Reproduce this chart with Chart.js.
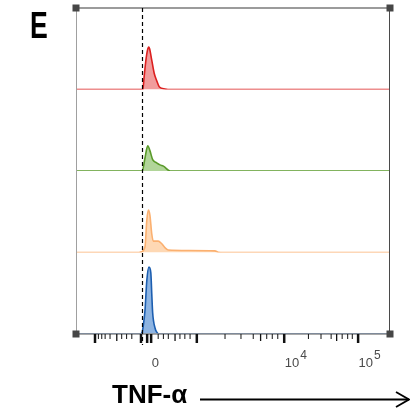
<!DOCTYPE html>
<html>
<head>
<meta charset="utf-8">
<script src="https://cdn.jsdelivr.net/npm/chart.js@4.4.1/dist/chart.umd.min.js"></script>
<style>
  html, body { margin: 0; padding: 0; background: #fff; }
</style>
</head>
<body>
<canvas id="chart-hist" width="410" height="412"></canvas>
<script>
// x = display channel (biexponential scale, 0-1024), y = count per lane (0-100)
var redChannel = [0, 202, 218, 222, 228, 233, 237, 240, 247, 255, 263, 272, 290, 307, 1024];
var redCount   = [0, 0, 0, 15, 36, 48, 52, 50, 36, 20, 11, 3, 0.7, 0, 0];

var greenChannel = [0, 210, 216, 225, 234, 241, 250, 263, 274, 285, 307, 1024];
var greenCount   = [0, 0, 0, 16, 31, 25, 14, 10, 7.5, 6, 0, 0];

var orangeChannel = [0, 205, 214, 225, 231, 236, 241, 247, 252, 268, 279, 290, 301, 366, 453, 464, 502, 1024];
var orangeCount   = [0, 0, 1, 7, 40, 52, 46, 23, 14, 14, 11, 6, 3, 2.5, 2, 0.4, 0, 0];

var blueChannel = [0, 210, 216, 219, 225, 231, 238, 244, 247, 250, 258, 263, 270, 1024];
var blueCount   = [0, 0, 2.5, 9, 29, 66, 82, 75, 50, 26, 7, 2.5, 0, 0];

// axis ticks (channel positions)
var majorTicks  = [62, 212, 232, 245, 394, 679, 920];
var mediumTicks = [133, 323, 602, 850];
var minorTicks  = [73, 84, 95, 111, 149, 165, 182, 268, 285, 301, 339, 355, 372,
                   486, 538, 578, 622, 640, 658, 758, 799, 832, 868, 886, 901];
var labelTicks  = [245, 679, 920];
var labelBase   = ["0", "10", "10"];
var labelExp    = ["", "4", "5"];

var gateChannel = 214;
var panelLetter = "E";
var axisTitle = "TNF-α";

function points(xs, ys) {
  return xs.map((x, i) => ({ x: x, y: ys[i] }));
}

function lane() {
  return { type: "linear", position: "left", stack: "lanes", stackWeight: 1,
           min: 0, max: 100, display: false };
}

const decorPlugin = {
  id: "decor",
  afterDraw(chart) {
    const ctx = chart.ctx;
    const a = chart.chartArea;
    const x = chart.scales.x;
    ctx.save();

    // frame
    ctx.lineWidth = 1.5;
    ctx.strokeStyle = "#7a7a7a";
    ctx.beginPath(); ctx.moveTo(a.left, a.top); ctx.lineTo(a.right, a.top); ctx.stroke();
    ctx.lineWidth = 1;
    ctx.strokeStyle = "#a0a0a0";
    ctx.beginPath(); ctx.moveTo(a.left + 0.5, a.top); ctx.lineTo(a.left + 0.5, a.bottom); ctx.stroke();
    ctx.strokeStyle = "#4a4a4a";
    ctx.beginPath(); ctx.moveTo(a.right - 0.5, a.top); ctx.lineTo(a.right - 0.5, a.bottom); ctx.stroke();
    ctx.lineWidth = 1.5;
    ctx.strokeStyle = "#8c8c8c";
    ctx.beginPath(); ctx.moveTo(a.left, a.bottom); ctx.lineTo(a.right, a.bottom); ctx.stroke();

    // tick marks
    ctx.strokeStyle = "#111";
    const drawTicks = (list, len, w) => {
      ctx.lineWidth = w;
      list.forEach(v => {
        const px = x.getPixelForValue(v);
        ctx.beginPath(); ctx.moveTo(px, a.bottom); ctx.lineTo(px, a.bottom + len); ctx.stroke();
      });
    };
    drawTicks(minorTicks, 5, 1);
    drawTicks(mediumTicks, 7, 1.3);
    drawTicks(majorTicks, 9, 2.5);

    // corner squares
    ctx.fillStyle = "#464646";
    [[a.left, a.top], [a.right, a.top], [a.left, a.bottom], [a.right, a.bottom]].forEach(p => {
      ctx.fillRect(p[0] - 3.5, p[1] - 3.5, 7, 7);
    });

    // tick labels
    ctx.fillStyle = "#4a4a4a";
    ctx.textBaseline = "alphabetic";
    ctx.textAlign = "left";
    labelTicks.forEach((v, i) => {
      const px = x.getPixelForValue(v) + 0.5;
      ctx.font = '13px "Liberation Sans", Arial, sans-serif';
      ctx.fillText(labelBase[i], px, 367);
      if (labelExp[i]) {
        const w = ctx.measureText(labelBase[i]).width;
        ctx.font = '12px "Liberation Sans", Arial, sans-serif';
        ctx.fillText(labelExp[i], px + w + 1, 358.5);
      }
    });

    // gate line
    const gx = Math.round(x.getPixelForValue(gateChannel)) + 0.5;
    ctx.strokeStyle = "#000";
    ctx.lineWidth = 1.2;
    ctx.setLineDash([4, 3]);
    ctx.beginPath(); ctx.moveTo(gx, a.top); ctx.lineTo(gx, a.bottom + 11); ctx.stroke();
    ctx.setLineDash([]);

    // panel letter
    ctx.fillStyle = "#000";
    ctx.save();
    ctx.translate(30, 37.5);
    ctx.scale(0.72, 1);
    ctx.font = 'bold 37px "Liberation Sans", Arial, sans-serif';
    ctx.fillText(panelLetter, 0, 0);
    ctx.restore();

    // axis title + arrow
    ctx.font = 'bold 26px "Liberation Sans", Arial, sans-serif';
    ctx.fillText(axisTitle, 112, 403);
    ctx.lineWidth = 1.8;
    ctx.strokeStyle = "#000";
    ctx.beginPath(); ctx.moveTo(200, 399.5); ctx.lineTo(409, 399.5); ctx.stroke();
    ctx.beginPath(); ctx.moveTo(396, 392); ctx.lineTo(409, 399.5); ctx.lineTo(396, 407); ctx.stroke();

    ctx.restore();
  }
};

function renderHistograms() {
  const ctx = document.getElementById("chart-hist")?.getContext("2d");
  if (!ctx) return;

  const common = { borderWidth: 1.6, pointRadius: 0, fill: "origin", cubicInterpolationMode: "monotone" };

  new Chart(ctx, {
    type: "line",
    data: {
      datasets: [
        Object.assign({ label: "red", data: points(redChannel, redCount), yAxisID: "yRed",
          borderColor: "#dc1f1f", backgroundColor: "rgba(232,90,90,0.6)" }, common),
        Object.assign({ label: "green", data: points(greenChannel, greenCount), yAxisID: "yGreen",
          borderColor: "#5a9a2a", backgroundColor: "rgba(125,185,85,0.6)" }, common),
        Object.assign({ label: "orange", data: points(orangeChannel, orangeCount), yAxisID: "yOrange",
          borderColor: "#fbb070", backgroundColor: "rgba(253,190,130,0.6)" }, common),
        Object.assign({ label: "blue", data: points(blueChannel, blueCount), yAxisID: "yBlue",
          borderColor: "#1c5eb0", backgroundColor: "rgba(80,140,210,0.65)" }, common)
      ]
    },
    options: {
      responsive: false,
      maintainAspectRatio: false,
      animation: false,
      layout: { padding: { left: 76, right: 20, top: 8, bottom: 78 } },
      plugins: { legend: { display: false }, tooltip: { enabled: false } },
      scales: {
        x: { type: "linear", min: 0, max: 1024, display: false },
        yBlue: lane(),
        yOrange: lane(),
        yGreen: lane(),
        yRed: lane()
      }
    },
    plugins: [decorPlugin]
  });
}

renderHistograms();
</script>
</body>
</html>
